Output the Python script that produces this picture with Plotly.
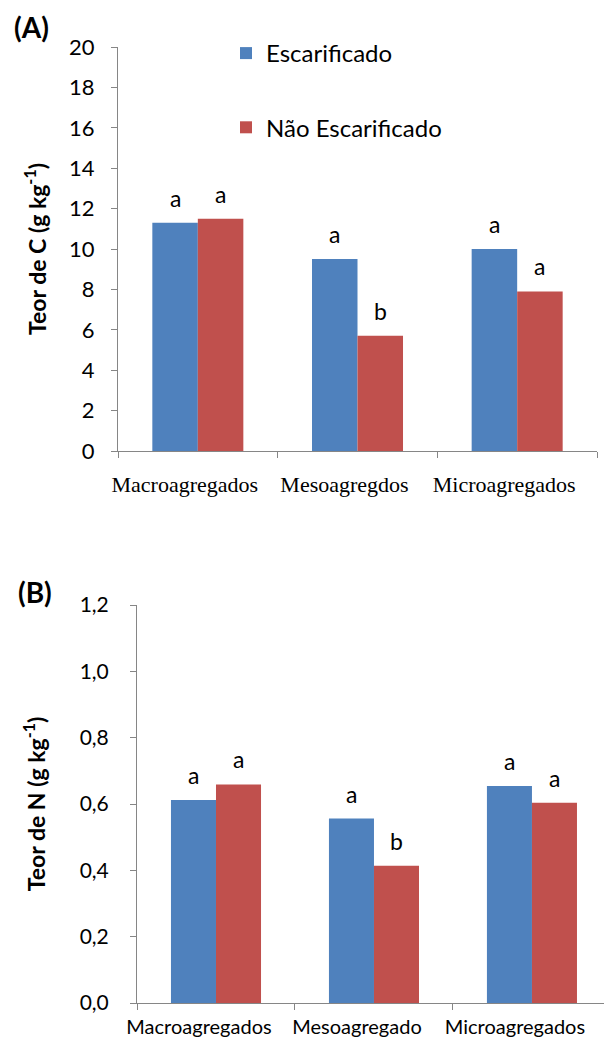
import plotly.graph_objects as go

# ---------------- data ----------------
categorias_C = ["Macroagregados", "Mesoagregdos", "Microagregados"]
categorias_N = ["Macroagregados", "Mesoagregado", "Microagregados"]

C_escarificado = [11.3, 9.5, 10.0]
C_nao_escarificado = [11.5, 5.7, 7.9]
letras_C_esc = ["a", "a", "a"]
letras_C_nao = ["a", "b", "a"]

N_escarificado = [0.612, 0.556, 0.654]
N_nao_escarificado = [0.659, 0.414, 0.604]
letras_N_esc = ["a", "a", "a"]
letras_N_nao = ["a", "b", "a"]

ticks_C = [0, 2, 4, 6, 8, 10, 12, 14, 16, 18, 20]
ticks_N = [0.0, 0.2, 0.4, 0.6, 0.8, 1.0, 1.2]

# ---------------- style ----------------
AZUL = "#4F81BD"
VERMELHO = "#C0504D"
CINZA = "#868686"
SANS = "Lato, 'Open Sans', sans-serif"
SERIF = "'Liberation Serif', 'Times New Roman', serif"
BARGAP = 0.43
meia = (1 - BARGAP) / 4  # offset of each bar centre from category centre

fig = go.Figure()
fig.add_trace(go.Bar(x=categorias_C, y=C_escarificado, name="Escarificado",
                     marker=dict(color=AZUL, line=dict(width=0)),
                     xaxis="x", yaxis="y", legendgroup="esc"))
fig.add_trace(go.Bar(x=categorias_C, y=C_nao_escarificado, name="Não Escarificado",
                     marker=dict(color=VERMELHO, line=dict(width=0)),
                     xaxis="x", yaxis="y", legendgroup="nao"))
fig.add_trace(go.Bar(x=categorias_N, y=N_escarificado, name="Escarificado",
                     marker=dict(color=AZUL, line=dict(width=0)),
                     xaxis="x2", yaxis="y2", showlegend=False, legendgroup="esc"))
fig.add_trace(go.Bar(x=categorias_N, y=N_nao_escarificado, name="Não Escarificado",
                     marker=dict(color=VERMELHO, line=dict(width=0)),
                     xaxis="x2", yaxis="y2", showlegend=False, legendgroup="nao"))

anns = []
def letras(vals, lets, xref, yref, sinal):
    for i, (v, l) in enumerate(zip(vals, lets)):
        anns.append(dict(x=i + sinal * meia, y=v, xref=xref, yref=yref, text=l,
                         showarrow=False, yanchor="bottom", yshift=9,
                         font=dict(family=SANS, size=23, color="black")))

letras(C_escarificado, letras_C_esc, "x", "y", -1)
letras(C_nao_escarificado, letras_C_nao, "x", "y", 1)
letras(N_escarificado, letras_N_esc, "x2", "y2", -1)
letras(N_nao_escarificado, letras_N_nao, "x2", "y2", 1)

anns.append(dict(x=12 / 604, y=1 - 27 / 1042, xref="paper", yref="paper", text="<b>(A)</b>",
                 showarrow=False, xanchor="left", yanchor="middle",
                 font=dict(family=SANS, size=28, color="black")))
anns.append(dict(x=16 / 604, y=1 - 592 / 1042, xref="paper", yref="paper", text="<b>(B)</b>",
                 showarrow=False, xanchor="left", yanchor="middle",
                 font=dict(family=SANS, size=28, color="black")))

eixo_comum = dict(showline=True, linecolor=CINZA, linewidth=1, ticks="outside",
                  ticklen=6, tickcolor=CINZA, showgrid=False, zeroline=False,
                  automargin=False)

fig.update_layout(
    width=604, height=1042,
    margin=dict(l=0, r=0, t=0, b=0, pad=0),
    paper_bgcolor="white", plot_bgcolor="white",
    barmode="group", bargap=BARGAP, bargroupgap=0,
    separators=",.",
    annotations=anns,
    showlegend=True,
    legend=dict(x=226 / 604, y=1 - 31 / 1042, xanchor="left", yanchor="top",
                font=dict(family=SANS, size=24, color="black"),
                traceorder="grouped", tracegroupgap=40,
                bgcolor="rgba(0,0,0,0)", itemwidth=30),
    xaxis=dict(domain=[118 / 604, 597 / 604], anchor="y", type="category",
               range=[-0.5, 2.5], tickson="boundaries",
               ticklabelstandoff=14, ticklabelshift=-13,
               tickfont=dict(family=SERIF, size=22, color="black"), **eixo_comum),
    yaxis=dict(domain=[1 - 451 / 1042, 1 - 47 / 1042], anchor="x",
               range=[0, 20], tickvals=ticks_C,
               tickfont=dict(family=SANS, size=22, color="black"),
               title=dict(text="<b>Teor de C (g kg<sup>-1</sup>)</b>",
                          font=dict(family=SANS, size=23, color="black"), standoff=16),
               ticklabelstandoff=12, **eixo_comum),
    xaxis2=dict(domain=[137 / 604, 1.0], anchor="y2", type="category",
                range=[-0.5, 2.456], tickson="boundaries",
                ticklabelstandoff=6, ticklabelshift=-17,
                tickfont=dict(family=SANS, size=20, color="black"), **eixo_comum),
    yaxis2=dict(domain=[1 - 1003 / 1042, 1 - 605 / 1042], anchor="x2",
                range=[0, 1.2], tickvals=ticks_N, tickformat=".1f",
                tickfont=dict(family=SANS, size=21, color="black"),
                title=dict(text="<b>Teor de N (g kg<sup>-1</sup>)</b>",
                           font=dict(family=SANS, size=23, color="black"), standoff=27),
                ticklabelstandoff=17, **eixo_comum),
)

fig.write_html("out.html")
